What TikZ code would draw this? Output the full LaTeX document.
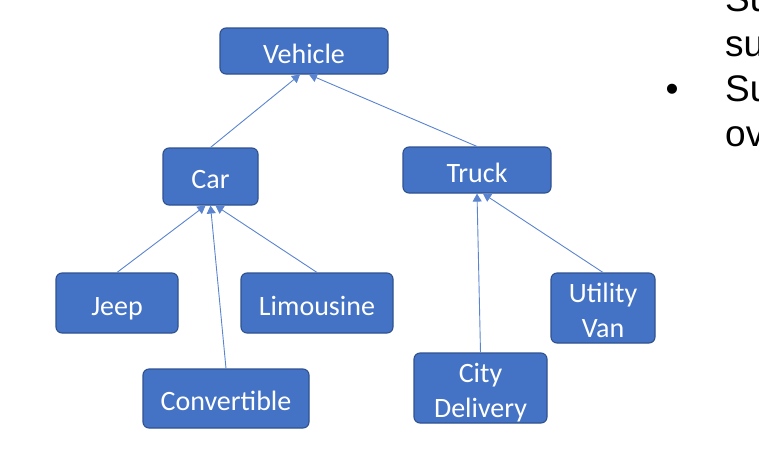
\documentclass[tikz,border=0pt]{standalone}
\usepackage{fontspec}
\setmainfont{Carlito}
\newfontfamily\slidefont{Liberation Sans}
\usepackage{tikz}
\usetikzlibrary{arrows.meta}
\definecolor{boxfill}{HTML}{4472C4}
\definecolor{boxedge}{HTML}{2F528F}
\definecolor{link}{HTML}{5B84D0}
\tikzset{
  cls/.style={draw=boxedge, fill=boxfill, line width=1.1pt, rounded corners=6pt,
    text=white, font=\fontsize{28}{35}\selectfont, inner sep=0pt, align=center,
    text height=24pt, text depth=0pt},
  twoline/.style={text height=59pt, text depth=1pt},
  inh/.style={draw=link, line width=0.9pt, -{Triangle[width=9pt,length=8pt]}},
  slide/.style={font=\slidefont\fontsize{37}{45}\selectfont, anchor=base west,
    inner sep=0pt, text=black}
}
\begin{document}
\begin{tikzpicture}[x=1pt, y=-1pt]
  \useasboundingbox (0,0) rectangle (759,469);

  \node[cls, minimum width=168pt, minimum height=46pt] (vehicle) at (304,51) {Vehicle};
  \node[cls, minimum width=95pt, minimum height=57pt] (car) at (210.5,176.5) {Car};
  \node[cls, minimum width=148pt, minimum height=46pt] (truck) at (477,170) {Truck};
  \node[cls, minimum width=122pt, minimum height=60pt] (jeep) at (117,303) {Jeep};
  \node[cls, minimum width=152pt, minimum height=60pt] (limo) at (317,303) {Limousine};
  \node[cls, minimum width=166pt, minimum height=59pt] (conv) at (226,398.5) {Convertible};
  \node[cls, twoline, minimum width=104pt, minimum height=70pt] (van) at (603,308) {Utility\\Van};
  \node[cls, twoline, minimum width=133pt, minimum height=70pt] (city) at (480.5,388) {City\\Delivery};

  \draw[inh] (car.north) -- ([xshift=-4pt]vehicle.south);
  \draw[inh] (truck.north) -- ([xshift=5pt]vehicle.south);
  \draw[inh] (jeep.north) -- ([xshift=-5pt]car.south);
  \draw[inh] (conv.north) -- ([xshift=0pt]car.south);
  \draw[inh] (limo.north) -- ([xshift=5pt]car.south);
  \draw[inh] (city.north) -- ([xshift=0pt]truck.south);
  \draw[inh] (van.north) -- ([xshift=6pt]truck.south);

  \node[slide] (line1) at (725,11) {Su};
  \node[slide] (line2) at (725,56) {su};
  \node[slide] (bullet) at (665.5,101) {•};
  \node[slide] (line3) at (725,101) {Su};
  \node[slide] (line4) at (725,146) {ov};
\end{tikzpicture}
\end{document}
